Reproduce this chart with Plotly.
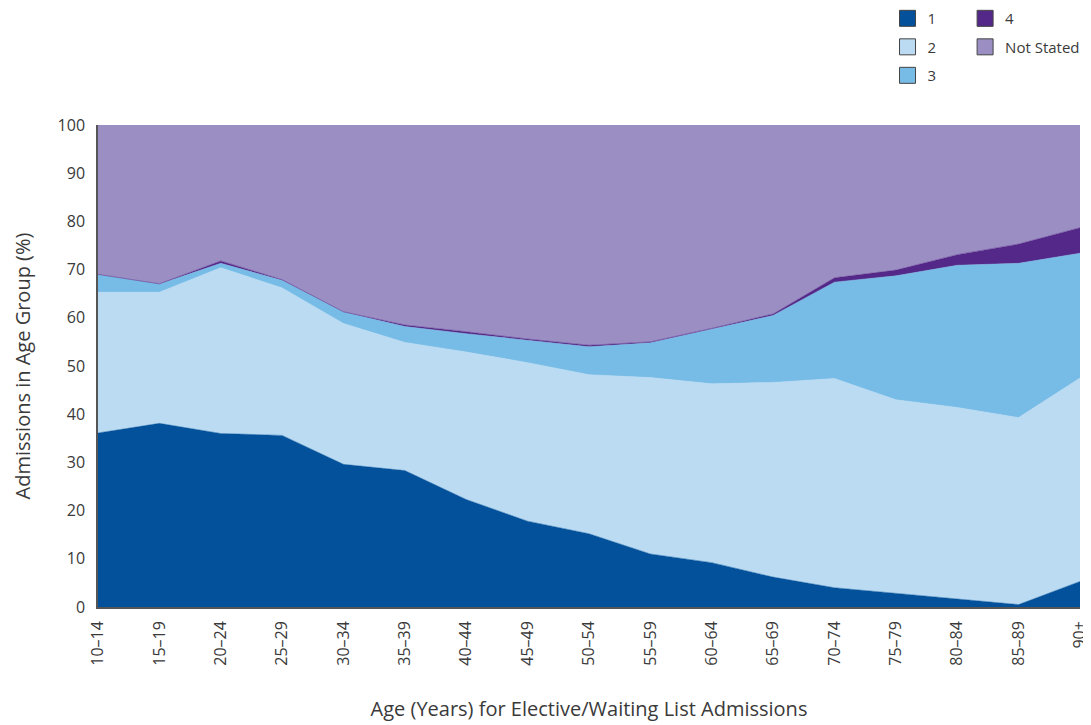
import plotly.graph_objects as go

categories = ["10–14", "15–19", "20–24", "25–29", "30–34", "35–39", "40–44", "45–49",
              "50–54", "55–59", "60–64", "65–69", "70–74", "75–79", "80–84", "85–89", "90+"]

s1 = [36.1, 38.1, 36.0, 35.6, 29.6, 28.3, 22.3, 17.8, 15.2, 11.0, 9.2, 6.2, 4.0, 2.8, 1.7, 0.5, 5.3]
s2 = [29.2, 27.2, 34.4, 30.6, 29.2, 26.6, 30.6, 32.9, 33.0, 36.6, 37.1, 40.4, 43.4, 40.2, 39.7, 38.8, 42.2]
s3 = [3.7, 1.7, 0.9, 1.6, 2.4, 3.3, 3.8, 4.6, 5.8, 7.2, 11.4, 13.9, 20.0, 25.7, 29.5, 32.0, 25.9]
s4 = [0.0, 0.05, 0.5, 0.1, 0.05, 0.3, 0.4, 0.3, 0.3, 0.2, 0.1, 0.3, 0.9, 1.2, 2.2, 4.0, 5.3]
not_stated = [round(100 - a - b - c - d, 2) for a, b, c, d in zip(s1, s2, s3, s4)]

series_names = ["1", "2", "3", "4", "Not Stated"]
series_values = [s1, s2, s3, s4, not_stated]
colors = ["#02519A", "#BBDBF2", "#77BCE6", "#542888", "#9B8EC3"]

FONT = "Open Sans"
TXT = "#3a3a3a"

x_idx = list(range(len(categories)))
fig = go.Figure()
for name, vals, col in zip(series_names, series_values, colors):
    fig.add_trace(go.Scatter(
        x=x_idx, y=vals, name=name, mode="lines", stackgroup="one",
        line=dict(width=0.5, color=col), fillcolor=col, showlegend=False,
    ))

legend_map = {"1": "legend", "2": "legend", "3": "legend", "4": "legend2", "Not Stated": "legend2"}
for name, col in zip(series_names, colors):
    fig.add_trace(go.Scatter(
        x=[None], y=[None], name=name, mode="markers",
        marker=dict(symbol="square", size=22, color=col, line=dict(width=1, color="#444")),
        legend=legend_map[name], legendgroup=name, showlegend=True,
    ))

legend_common = dict(
    font=dict(family=FONT, size=15, color=TXT), bgcolor="rgba(0,0,0,0)",
    orientation="v", xanchor="left", yanchor="top", tracegroupgap=6,
    itemsizing="trace",
)

# The page body has an 8px margin; offset the figure accordingly.
fig.update_layout(
    width=1083, height=717,
    margin=dict(l=90, r=11, t=117, b=118, autoexpand=False),
    paper_bgcolor="white", plot_bgcolor="white",
    font=dict(family=FONT, color=TXT),
    legend=dict(x=0.804, y=1.255, **legend_common),
    legend2=dict(x=0.883, y=1.255, **legend_common),
    xaxis=dict(
        range=[0, len(categories) - 1], tickmode="array", tickvals=x_idx, ticktext=categories,
        tickangle=-90, tickfont=dict(size=16, color=TXT), showgrid=False, zeroline=False,
        showline=True, linecolor="#555", linewidth=1.5, ticks="", ticklabelstandoff=6,
        ticklabeloverflow="allow",
        title=dict(text="Age (Years) for Elective/Waiting List Admissions",
                   font=dict(size=20, color=TXT), standoff=37),
    ),
    yaxis=dict(
        range=[0, 100], tickmode="array", tickvals=list(range(0, 101, 10)),
        tickfont=dict(size=16, color=TXT), showgrid=False, zeroline=False,
        showline=True, linecolor="#555", linewidth=1.5, ticks="", ticklabelstandoff=8,
        title=dict(text="Admissions in Age Group (%)", font=dict(size=20, color=TXT), standoff=22),
    ),
)

fig.write_html("out.html")
